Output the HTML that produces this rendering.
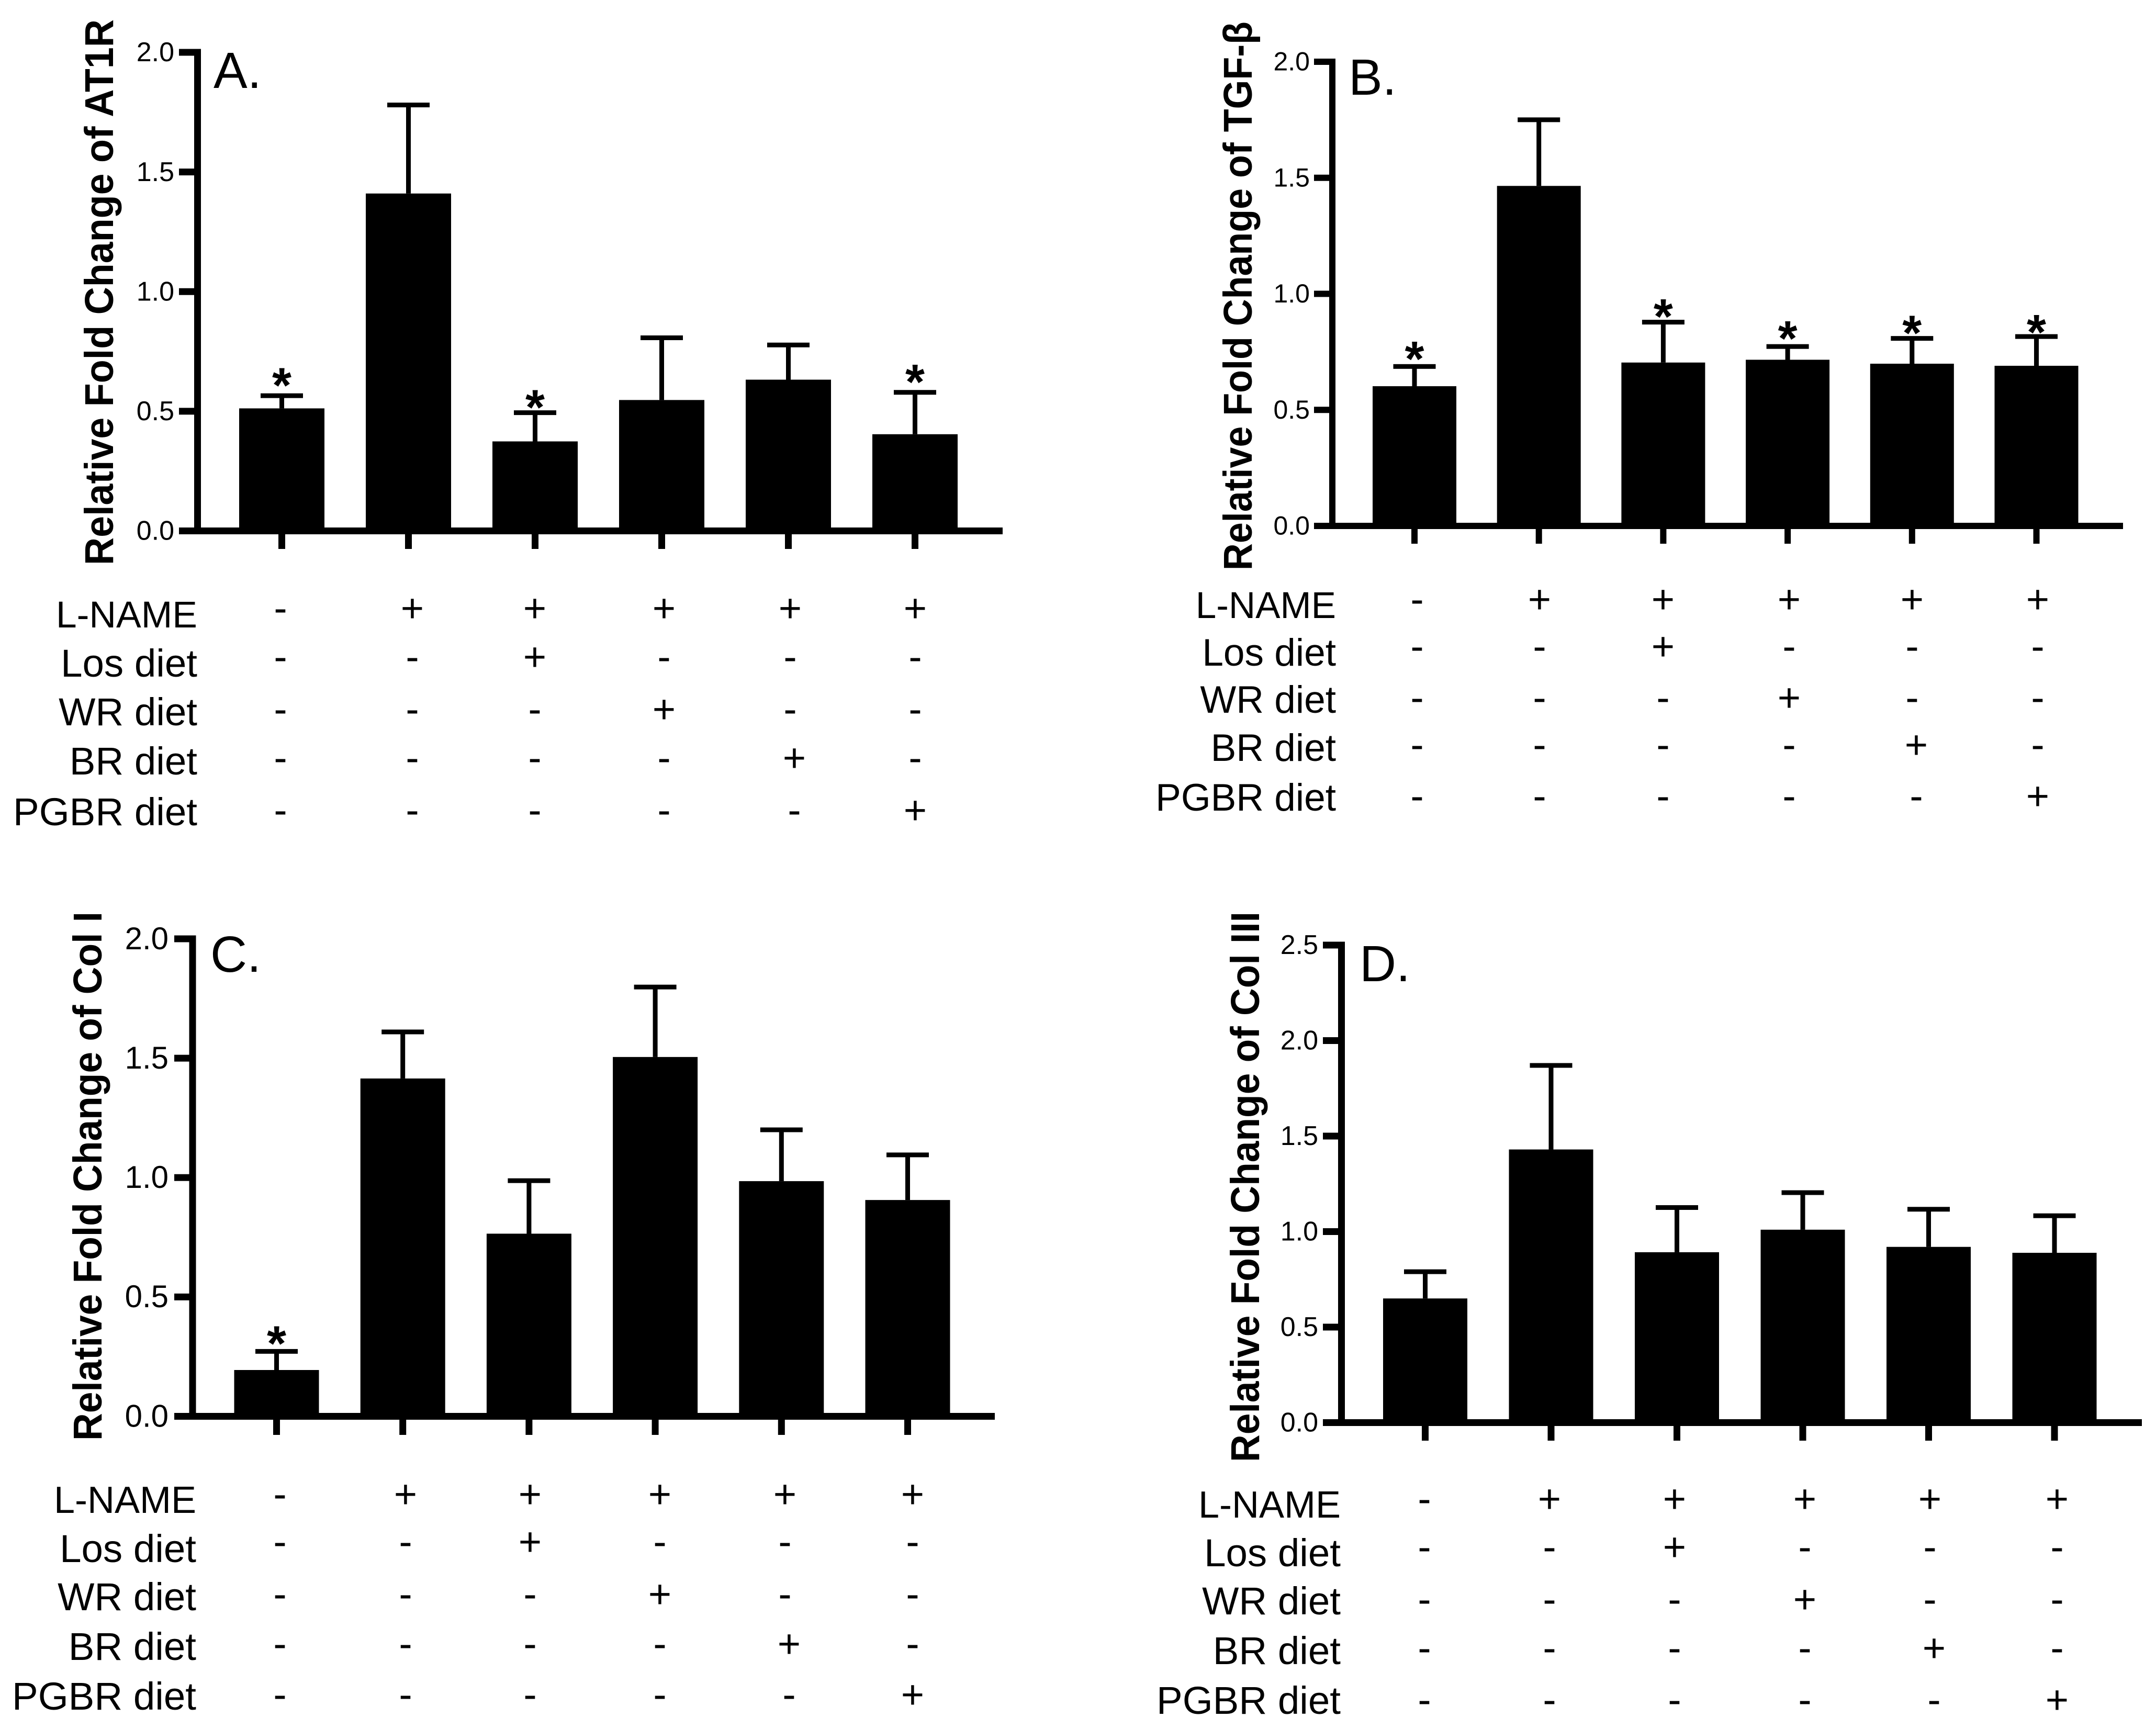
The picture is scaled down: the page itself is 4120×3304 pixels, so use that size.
<!DOCTYPE html>
<html lang="en">
<head>
<meta charset="utf-8">
<title>Relative fold change of AT1R, TGF-β, Col I and Col III</title>
<style>
html,body{margin:0;padding:0;background:#fff;}
svg{display:block;}
text{font-family:"Liberation Sans",Arial,sans-serif;fill:#000;}
</style>
</head>
<body>
<svg id="figure" xmlns="http://www.w3.org/2000/svg" width="4120" height="3304" viewBox="0 0 4120 3304">
<rect x="0" y="0" width="4120" height="3304" fill="#fff"/>
</svg>
<script>
// ---- chart data ----
const rowLabels = ['L-NAME', 'Los diet', 'WR diet', 'BR diet', 'PGBR diet'];
const rowMarks = [
  ['-', '+', '+', '+', '+', '+'],
  ['-', '-', '+', '-', '-', '-'],
  ['-', '-', '-', '+', '-', '-'],
  ['-', '-', '-', '-', '+', '-'],
  ['-', '-', '-', '-', '-', '+']
];
const ticksTwo = ['0.0', '0.5', '1.0', '1.5', '2.0'];
const ticksTwoHalf = ['0.0', '0.5', '1.0', '1.5', '2.0', '2.5'];

const meansA = [0.512, 1.41, 0.374, 0.547, 0.632, 0.404];
const errorsA = [0.565, 1.78, 0.494, 0.807, 0.777, 0.579];
const starsA = [0.074, null, 0.053, null, null, 0.074];

const meansB = [0.602, 1.465, 0.704, 0.716, 0.699, 0.69];
const errorsB = [0.687, 1.75, 0.878, 0.773, 0.808, 0.816];
const starsB = [0.064, null, 0.056, 0.066, 0.055, 0.05];

const meansC = [0.194, 1.415, 0.765, 1.505, 0.985, 0.906];
const errorsC = [0.272, 1.61, 0.987, 1.798, 1.2, 1.095];
const starsC = [0.063, null, null, null, null, null];

const meansD = [0.65, 1.43, 0.892, 1.01, 0.92, 0.889];
const errorsD = [0.79, 1.87, 1.126, 1.204, 1.117, 1.083];
const starsD = [null, null, null, null, null, null];

// ---- panel layout ----
const panels = [
  {key:'a', letter:'A.', title:'Relative Fold Change of AT1R', means:meansA, errors:errorsA, stars:starsA, ticks:ticksTwo,
   axisX:377.5, axisW:13, tickL:342, base:1014.5, top:100, xEnd:1916, x0:538.5, step:242, barW:163, tickBottom:1049,
   tickFont:52, tickRight:333, titleX:216, titleY:1080, titleLen:1043,
   letterX:408, letterY:168, labelRight:377, labelY:[1199,1293,1386,1480,1577], fontName:71.5, fontDiet:74.5,
   symX:[536,788,1022,1269,1510,1749], symY:[1188,1281,1381,1474,1574]},
  {key:'b', letter:'B.', title:'Relative Fold Change of TGF-β', means:meansB, errors:errorsB, stars:starsB, ticks:ticksTwo,
   axisX:2546, axisW:12, tickL:2511, base:1005, top:118, xEnd:4057, x0:2703, step:237.7, barW:160, tickBottom:1039,
   tickFont:50, tickRight:2503, titleX:2392, titleY:1090, titleLen:1049,
   letterX:2577, letterY:181, labelRight:2553, labelY:[1181,1272,1362,1454,1549], fontName:71, fontDiet:73,
   symX:[2708,2942,3178,3419,3654,3894], symY:[1171,1261,1359,1449,1547]},
  {key:'c', letter:'C.', title:'Relative Fold Change of Col I', means:meansC, errors:errorsC, stars:starsC, ticks:ticksTwo,
   axisX:368, axisW:13, tickL:333, base:2706.5, top:1794, xEnd:1901, x0:528.5, step:241.2, barW:162, tickBottom:2742,
   tickFont:60, tickRight:322, titleX:194, titleY:2753, titleLen:1011,
   letterX:402, letterY:1857, labelRight:375, labelY:[2891,2985,3077,3172,3267], fontName:72, fontDiet:74.5,
   symX:[535,775,1013,1261,1500,1744], symY:[2881,2972,3072,3167,3264]},
  {key:'d', letter:'D.', title:'Relative Fold Change of Col III', means:meansD, errors:errorsD, stars:starsD, ticks:ticksTwoHalf,
   axisX:2563.5, axisW:13, tickL:2528, base:2718.5, top:1806, xEnd:4093, x0:2723.5, step:240.5, barW:161, tickBottom:2753,
   tickFont:52, tickRight:2519, titleX:2406, titleY:2794, titleLen:1052,
   letterX:2598, letterY:1875, labelRight:2562, labelY:[2900,2993,3085,3180,3275], fontName:72, fontDiet:74.5,
   symX:[2722,2961,3200,3449,3688,3931], symY:[2890,2982,3082,3175,3274]}
];

const svg = document.getElementById('figure');
const NS = 'http://www.w3.org/2000/svg';

function node(tag, parent, props, content) {
  const el = document.createElementNS(NS, tag);
  for (const k in props) el.setAttribute(k, props[k]);
  if (content !== undefined) el.textContent = content;
  parent.appendChild(el);
  return el;
}

function drawPanel(p) {
  const g = node('g', svg, {});
  
  

  const maxV = parseFloat(p.ticks[p.ticks.length - 1]);
  const yOf = v => p.base - (v / maxV) * (p.base - p.top);
  const xOf = i => p.x0 + i * p.step;
  const half = p.axisW / 2;

  // y axis line
  const yAxis = node('rect', g, {x:p.axisX - half, y:p.top - half, width:p.axisW, height:p.base - p.top + p.axisW, fill:'#000'});
  
  

  // y ticks + labels
  p.ticks.forEach(t => {
    const y = yOf(parseFloat(t));
    const mark = node('rect', g, {x:p.tickL, y:y - half, width:p.axisX - p.tickL, height:p.axisW, fill:'#000'});
    
    
    const lab = node('text', g, {x:p.tickRight, y:y + p.tickFont * 0.33, 'text-anchor':'end', 'font-size':p.tickFont}, t);
    
    
  });

  // bars, error bars, asterisks, x ticks
  p.means.forEach((m, i) => {
    const cx = xOf(i);
    const top = yOf(m);
    const errY = yOf(p.errors[i]);

    const stem = node('rect', g, {x:cx - 4.5, y:errY, width:9, height:top - errY, fill:'#000'});
    
    

    const cap = node('rect', g, {x:cx - 40.5, y:errY - 4.5, width:81, height:9, fill:'#000'});
    
    

    const bar = node('rect', g, {x:cx - p.barW / 2, y:top, width:p.barW, height:p.base - top, fill:'#000'});
    
    

    const tick = node('rect', g, {x:cx - half, y:p.base, width:p.axisW, height:p.tickBottom - p.base, fill:'#000'});
    
    

    if (p.stars[i] !== null) {
      const star = node('text', g, {x:cx, y:yOf(p.errors[i] + p.stars[i]) + 46, 'text-anchor':'middle', 'font-size':95, 'font-weight':'bold'}, '*');
      
      
    }
  });

  // x axis line
  const xAxis = node('rect', g, {x:p.tickL, y:p.base - half, width:p.xEnd - p.tickL, height:p.axisW, fill:'#000'});
  
  

  // y axis title
  const title = node('text', g, {
    x:p.titleX, y:p.titleY, 'font-size':77, 'font-weight':'bold',
    transform:'rotate(-90 ' + p.titleX + ' ' + p.titleY + ')',
    textLength:p.titleLen, lengthAdjust:'spacingAndGlyphs'
  }, p.title);
  
  

  // panel letter
  const letter = node('text', g, {x:p.letterX, y:p.letterY, 'font-size':97}, p.letter);
  
  

  // treatment rows
  rowLabels.forEach((lab, r) => {
    const rowText = node('text', g, {x:p.labelRight, y:p.labelY[r], 'text-anchor':'end', 'font-size':r === 0 ? p.fontName : p.fontDiet}, lab);
    
    
    rowMarks[r].forEach((sym, c) => {
      const shift = (c === 4 && r >= 3) ? 8 : 0;
      const mark = node('text', g, {x:p.symX[c] + shift, y:p.symY[r], 'text-anchor':'middle', 'font-size':76}, sym);
      
      
    });
  });
}

panels.forEach(drawPanel);
</script>
</body>
</html>
